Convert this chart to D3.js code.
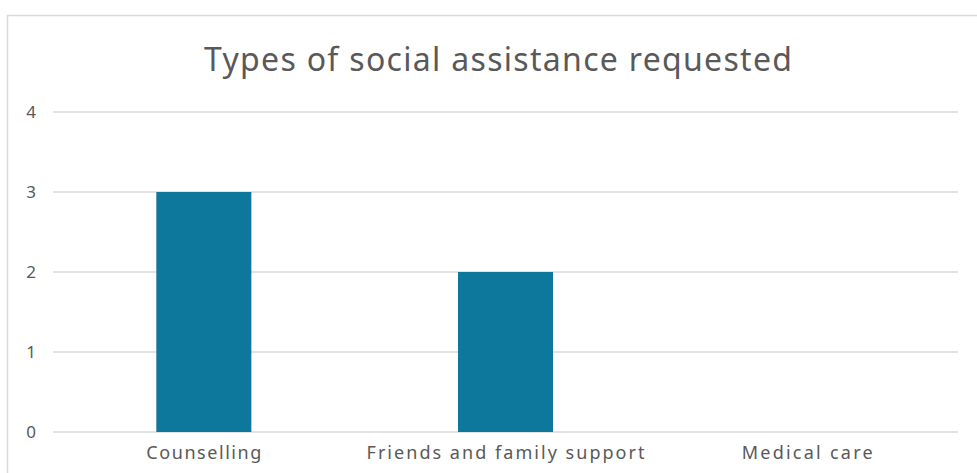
<!DOCTYPE html>
<html>
<head>
<meta charset="utf-8">
<script src="https://cdn.jsdelivr.net/npm/d3@7"></script>
<style>
  body { margin: 0; background: #fff; }
  text { font-family: "Noto Sans", "Open Sans", sans-serif; fill: #595959; }
</style>
</head>
<body>
<svg id="chart" width="977" height="473"></svg>
<script>
var title = "Types of social assistance requested";
var categories = ["Counselling", "Friends and family support", "Medical care"];
var values = [3, 2, 0];
var yTicks = [0, 1, 2, 3, 4];
// measured widths of the category labels in the reference
var labelWidths = [115, 278, 131];

var svg = d3.select("#chart");

var plotLeft = 53, plotRight = 958, plotTop = 112, plotBottom = 432;

// chart area border
svg.append("rect")
    .attr("x", 7.5)
    .attr("y", 15.5)
    .attr("width", 980)
    .attr("height", 470)
    .style("fill", "none")
    .style("stroke", "#d9d9d9")
    .style("stroke-width", 1.5);

var x = d3.scaleBand()
    .domain(categories)
    .range([plotLeft, plotRight])
    .paddingInner(0.685)
    .paddingOuter(0.3425);

var y = d3.scaleLinear()
    .domain([0, 4])
    .range([plotBottom, plotTop]);

// gridlines
svg.selectAll(".grid")
    .data(yTicks)
    .enter()
    .append("line")
    .attr("class", "grid")
    .attr("x1", plotLeft)
    .attr("x2", plotRight)
    .attr("y1", d => y(d))
    .attr("y2", d => y(d))
    .style("stroke", "#d9d9d9")
    .style("stroke-width", 1.5);

// y labels
svg.selectAll(".ylab")
    .data(yTicks)
    .enter()
    .append("text")
    .attr("class", "ylab")
    .attr("x", 31)
    .attr("y", d => y(d))
    .attr("dy", "0.35em")
    .attr("text-anchor", "middle")
    .style("font-size", "17px")
    .text(d => d);

// bars
svg.selectAll(".bar")
    .data(values)
    .enter()
    .append("rect")
    .attr("class", "bar")
    .attr("x", (d, i) => x(categories[i]))
    .attr("width", x.bandwidth())
    .attr("y", d => y(d))
    .attr("height", d => y(0) - y(d))
    .style("fill", "#0e779c");

// category labels
svg.selectAll(".xlab")
    .data(categories)
    .enter()
    .append("text")
    .attr("class", "xlab")
    .attr("x", d => x(d) + x.bandwidth() / 2)
    .attr("y", 459)
    .attr("text-anchor", "middle")
    .attr("textLength", (d, i) => labelWidths[i])
    .attr("lengthAdjust", "spacing")
    .style("font-size", "18px")
    .text(d => d);

svg.append("text")
    .attr("x", 498)
    .attr("y", 71)
    .attr("text-anchor", "middle")
    .attr("textLength", 588)
    .attr("lengthAdjust", "spacing")
    .style("font-size", "32px")
    .text(title);
</script>
</body>
</html>
